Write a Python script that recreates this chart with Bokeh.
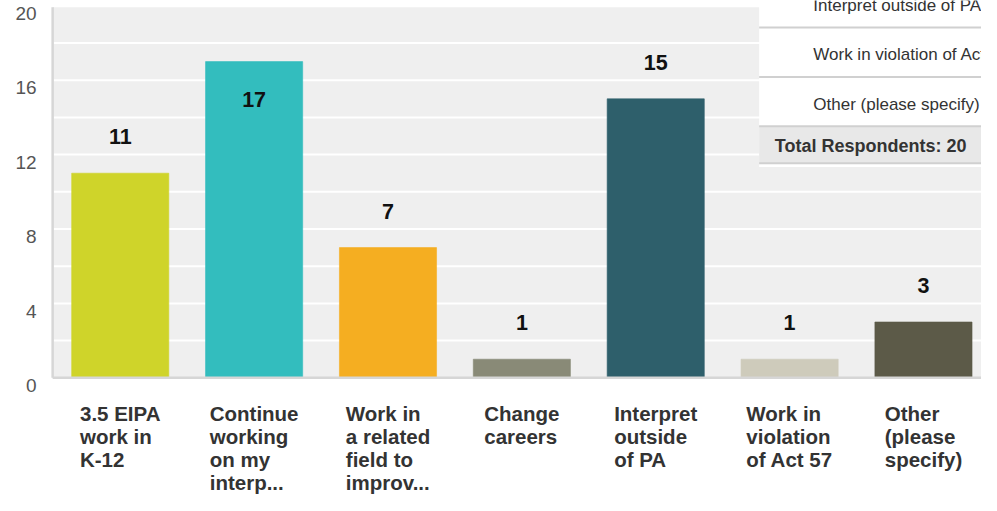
from bokeh.plotting import figure
from bokeh.models import ColumnDataSource, Range1d
from bokeh.core.properties import value
from bokeh.embed import file_html
from bokeh.resources import INLINE

categories = [
    "3.5 EIPA\nwork in\nK-12",
    "Continue\nworking\non my\ninterp...",
    "Work in\na related\nfield to\nimprov...",
    "Change\ncareers",
    "Interpret\noutside\nof PA",
    "Work in\nviolation\nof Act 57",
    "Other\n(please\nspecify)",
]
counts = [11, 17, 7, 1, 15, 1, 3]
bar_colors = ["#cfd42a", "#33bdbe", "#f5ae21", "#898a77", "#2e5f6b", "#cecbbb", "#5c5a48"]
y_ticks = [0, 4, 8, 12, 16, 20]
grid_ticks = [2, 4, 6, 8, 10, 12, 14, 16, 18]

table_rows = ["Interpret outside of PA", "Work in violation of Act 57", "Other (please specify)"]
table_total = "Total Respondents: 20"

FONT = value("Liberation Sans")
idx = list(range(len(categories)))

# the frame covers the whole canvas; plot area, axes and labels are placed in data space
X0, X1 = -0.8945, 6.4335
Y0, Y1 = -6.328, 20.286
AREA_L, AREA_R, AREA_T = -0.505, 7.0, 19.92

p = figure(width=981, height=495, output_backend="svg", toolbar_location=None,
           x_range=Range1d(X0, X1), y_range=Range1d(Y0, Y1),
           x_axis_location=None, y_axis_location=None,
           min_border=0, background_fill_color="white", border_fill_color="white",
           outline_line_color=None)
p.grid.visible = False

# plot area background and grid
p.quad(left=AREA_L, right=AREA_R, bottom=0, top=AREA_T, fill_color="#efefef", line_color=None)
p.segment(x0=[AREA_L] * len(grid_ticks), x1=[AREA_R] * len(grid_ticks),
          y0=grid_ticks, y1=grid_ticks, line_color="white", line_width=2)

# bars
src = ColumnDataSource(dict(x=idx, top=counts, color=bar_colors,
                            lab=[str(c) for c in counts],
                            ly=[c + 1.95 if c + 2 < 18.5 else c - 2.05 for c in counts]))
p.vbar(x="x", top="top", width=0.7255, bottom=0, fill_color="color",
       line_color="color", line_alpha=0.6, source=src)
p.text(x="x", y="ly", text="lab", source=src, text_align="center",
       text_baseline="middle", text_font=FONT, text_font_style="bold",
       text_font_size="21.5px", text_color="#111111")

# axis lines
p.segment(x0=[AREA_L, AREA_L], x1=[AREA_L, AREA_R], y0=[0, 0], y1=[AREA_T, 0],
          line_color="#d6d6d6", line_width=2.5)

# y tick labels (sit slightly below their grid lines, as in the reference)
p.text(x=[-0.625] * len(y_ticks), y=[t - 0.417 for t in y_ticks],
       text=[str(t) for t in y_ticks], text_align="right", text_baseline="middle",
       text_font=FONT, text_font_size="19px", text_color="#555555")

# category labels: left-aligned lines in a block centred on each bar
p.text(x=idx, y=[-1.3] * len(idx), text=categories, anchor="top_center",
       text_align="left", text_font=FONT, text_font_style="bold",
       text_font_size="20.5px", text_color="#333333", text_line_height=1.0)

# table overlay (top right of the screenshot)
tx0 = 4.7725
p.quad(left=tx0, right=7, bottom=11.33, top=21, fill_color="white", line_color=None)
p.quad(left=tx0, right=7, bottom=11.53, top=13.52, fill_color="#e8e8e8", line_color=None)
p.segment(x0=[tx0] * 4, x1=[7] * 4, y0=[18.83, 16.17, 13.52, 11.53],
          y1=[18.83, 16.17, 13.52, 11.53], line_color="#d0d0d0", line_width=2)
p.text(x=[5.177] * 3, y=[20.03, 17.37, 14.71], text=table_rows,
       text_font=FONT, text_font_size="17px", text_color="#333333",
       text_baseline="middle", text_align="left")
p.text(x=[4.889], y=[12.47], text=[table_total], text_font=FONT,
       text_font_style="bold", text_font_size="18px", text_color="#333333",
       text_baseline="middle", text_align="left")

open("out.html", "w").write(file_html(p, INLINE))
